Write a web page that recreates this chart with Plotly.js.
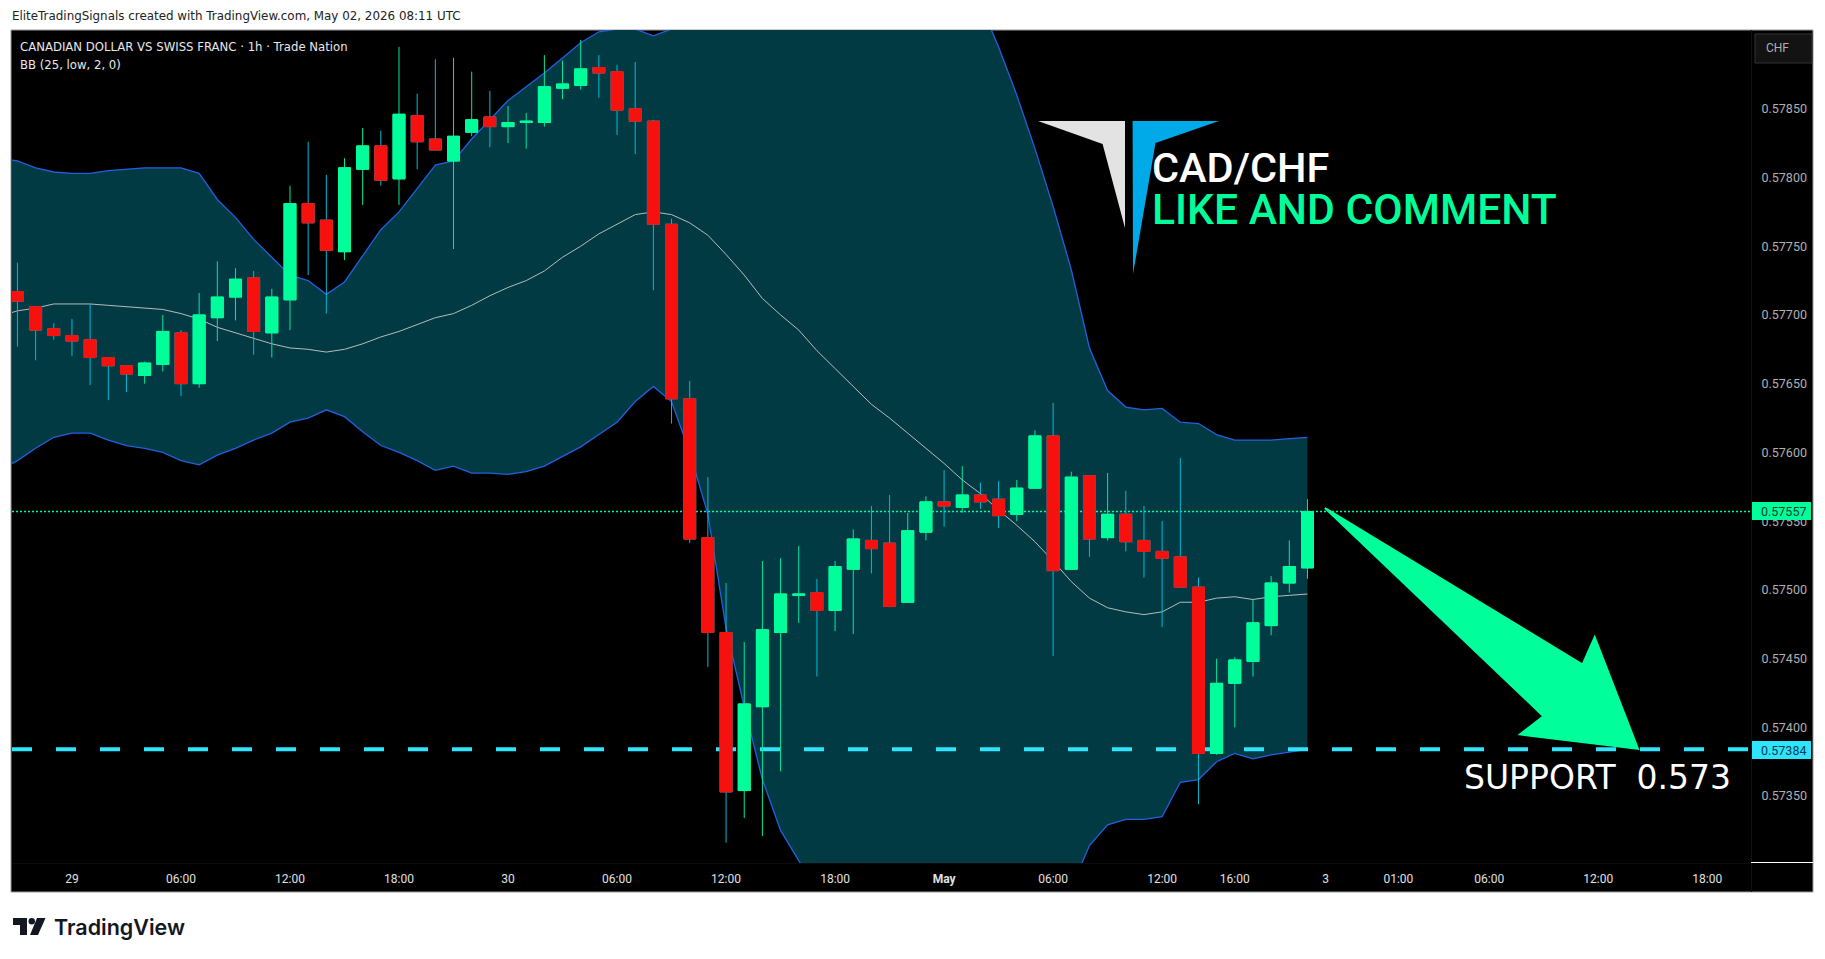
<!DOCTYPE html>
<html>
<head>
<meta charset="utf-8">
<script src="https://cdn.plot.ly/plotly-3.0.1.min.js"></script>
<style>
  html, body { margin: 0; padding: 0; background: #fff; }
</style>
</head>
<body>
<div id="chart" style="width:1825px;height:959px"></div>
<script>
// hourly candles
const open = [0.57717,0.57706,0.57690,0.57685,0.57682,0.57669,0.57663,0.57656,0.57664,0.57687,0.57650,0.57698,0.57713,0.57727,0.57687,0.57711,0.57781,0.57769,0.57746,0.57806,0.57823,0.57799,0.57845,0.57828,0.57812,0.57833,0.57844,0.57837,0.57840,0.57840,0.57865,0.57867,0.57880,0.57877,0.57850,0.57841,0.57766,0.57639,0.57538,0.57469,0.57354,0.57415,0.57469,0.57496,0.57498,0.57485,0.57515,0.57536,0.57534,0.57491,0.57542,0.57564,0.57560,0.57569,0.57566,0.57555,0.57574,0.57612,0.57515,0.57583,0.57538,0.57555,0.57536,0.57528,0.57524,0.57502,0.57381,0.57432,0.57448,0.57474,0.57505,0.57516];
const high = [0.57738,0.57706,0.57694,0.57697,0.57708,0.57669,0.57663,0.57666,0.57700,0.57689,0.57716,0.57739,0.57734,0.57732,0.57719,0.57794,0.57826,0.57802,0.57814,0.57836,0.57834,0.57895,0.57861,0.57886,0.57887,0.57877,0.57863,0.57852,0.57847,0.57889,0.57885,0.57900,0.57889,0.57882,0.57884,0.57842,0.57770,0.57652,0.57582,0.57505,0.57462,0.57521,0.57523,0.57532,0.57508,0.57521,0.57544,0.57561,0.57569,0.57556,0.57568,0.57587,0.57590,0.57578,0.57579,0.57580,0.57616,0.57636,0.57586,0.57583,0.57585,0.57572,0.57561,0.57550,0.57596,0.57509,0.57450,0.57451,0.57493,0.57510,0.57536,0.57566];
const low = [0.57677,0.57667,0.57682,0.57670,0.57649,0.57638,0.57644,0.57650,0.57659,0.57641,0.57647,0.57681,0.57696,0.57671,0.57669,0.57689,0.57729,0.57701,0.57740,0.57780,0.57794,0.57780,0.57806,0.57820,0.57748,0.57830,0.57822,0.57825,0.57821,0.57837,0.57857,0.57864,0.57858,0.57831,0.57817,0.57718,0.57621,0.57534,0.57444,0.57316,0.57334,0.57321,0.57368,0.57476,0.57437,0.57470,0.57468,0.57512,0.57488,0.57491,0.57536,0.57546,0.57556,0.57559,0.57545,0.57550,0.57574,0.57452,0.57515,0.57524,0.57536,0.57528,0.57509,0.57473,0.57502,0.57344,0.57380,0.57400,0.57437,0.57467,0.57498,0.57508];
const close = [0.57710,0.57689,0.57685,0.57681,0.57669,0.57663,0.57657,0.57665,0.57688,0.57650,0.57700,0.57713,0.57726,0.57688,0.57713,0.57781,0.57767,0.57747,0.57807,0.57823,0.57798,0.57846,0.57826,0.57820,0.57830,0.57842,0.57837,0.57840,0.57841,0.57866,0.57868,0.57879,0.57876,0.57849,0.57841,0.57766,0.57639,0.57537,0.57469,0.57353,0.57417,0.57471,0.57497,0.57497,0.57485,0.57517,0.57537,0.57530,0.57488,0.57543,0.57564,0.57561,0.57569,0.57564,0.57554,0.57574,0.57612,0.57514,0.57582,0.57537,0.57555,0.57535,0.57528,0.57523,0.57502,0.57381,0.57432,0.57449,0.57476,0.57505,0.57517,0.57557];

// BB (25, low, 2, 0), one value more on the left so the band runs off the pane
const bbUpper = [0.57814,0.57812,0.57807,0.57804,0.57803,0.57803,0.57805,0.57806,0.57807,0.57807,0.57807,0.57803,0.57784,0.57771,0.57755,0.57742,0.57729,0.57725,0.57715,0.57724,0.57743,0.57762,0.57775,0.57792,0.57809,0.57812,0.57828,0.57842,0.57856,0.57866,0.57876,0.57887,0.57898,0.57906,0.57908,0.57908,0.57903,0.57908,0.57924,0.57944,0.57973,0.57992,0.58002,0.58012,0.58016,0.58019,0.58019,0.58019,0.58016,0.58012,0.58002,0.57992,0.57975,0.57953,0.57926,0.57895,0.57860,0.57821,0.57779,0.57733,0.57676,0.57645,0.57633,0.57631,0.57632,0.57622,0.57621,0.57613,0.57609,0.57609,0.57609,0.57610,0.57611];
const bbMid = [0.57699,0.57703,0.57705,0.57708,0.57708,0.57708,0.57707,0.57706,0.57705,0.57704,0.57701,0.57697,0.57691,0.57687,0.57683,0.57679,0.57676,0.57675,0.57673,0.57675,0.57679,0.57684,0.57688,0.57693,0.57698,0.57701,0.57707,0.57714,0.57720,0.57725,0.57732,0.57742,0.57750,0.57759,0.57766,0.57773,0.57775,0.57773,0.57767,0.57758,0.57744,0.57729,0.57712,0.57700,0.57689,0.57674,0.57661,0.57648,0.57635,0.57625,0.57614,0.57603,0.57592,0.57580,0.57570,0.57558,0.57547,0.57535,0.57521,0.57506,0.57494,0.57487,0.57484,0.57482,0.57484,0.57491,0.57491,0.57494,0.57495,0.57493,0.57495,0.57496,0.57497];
const bbLower = [0.57587,0.57594,0.57603,0.57611,0.57614,0.57614,0.57609,0.57605,0.57603,0.57600,0.57594,0.57591,0.57598,0.57603,0.57609,0.57614,0.57622,0.57625,0.57631,0.57626,0.57615,0.57605,0.57600,0.57594,0.57587,0.57590,0.57585,0.57585,0.57584,0.57586,0.57590,0.57597,0.57604,0.57613,0.57622,0.57637,0.57648,0.57637,0.57600,0.57555,0.57472,0.57415,0.57362,0.57325,0.57303,0.57283,0.57267,0.57254,0.57244,0.57236,0.57231,0.57228,0.57227,0.57228,0.57231,0.57235,0.57238,0.57244,0.57262,0.57283,0.57314,0.57329,0.57333,0.57333,0.57335,0.57360,0.57362,0.57375,0.57381,0.57377,0.57380,0.57382,0.57384];

const lastPrice = 0.57557;
const supportPrice = 0.57384;

const priceTicks = [0.5735,0.574,0.5745,0.575,0.5755,0.576,0.5765,0.577,0.5775,0.578,0.5785];
const timeTickPos = [3,9,15,21,27,33,39,45,51,57,63,67,72,76,81,87,93];
const timeTickText = ['29','06:00','12:00','18:00','30','06:00','12:00','18:00','<b>May</b>','06:00','12:00','16:00','3','01:00','06:00','12:00','18:00'];

const W = 1825, H = 959;
const M = {l: 12, r: 74, t: 30, b: 96};
const xRange = [-0.3, 95.41];
const yRange = [0.573013, 0.579073];

// page pixels to paper fractions, for the decoration around the chart
const fx = x => (x - M.l) / (W - M.l - M.r);
const fy = y => 1 - (y - M.t) / (H - M.t - M.b);
const poly = pts => 'M' + pts.map(p => fx(p[0]) + ',' + fy(p[1])).join('L') + 'Z';

const GREEN = '#00ff9b', RED = '#f7110e', TEAL = '#023a44', BLUE = '#2260e0', CYAN = '#2fe4ff';

const candleIdx = open.map((_, i) => i);
const bandIdx = bbUpper.map((_, i) => i - 1);

const bandLine = {color: BLUE, width: 1.3};
const traces = [
  {x: bandIdx, y: bbUpper, type: 'scatter', mode: 'lines', line: bandLine, hoverinfo: 'skip'},
  {x: bandIdx, y: bbLower, type: 'scatter', mode: 'lines', line: bandLine, fill: 'tonexty', fillcolor: TEAL, hoverinfo: 'skip'},
  {x: bandIdx, y: bbMid, type: 'scatter', mode: 'lines', line: {color: '#b4bcbc', width: 1}, hoverinfo: 'skip'},
  {x: xRange, y: [lastPrice, lastPrice], type: 'scatter', mode: 'lines', line: {color: GREEN, width: 1.5, dash: '2px,2px'}, hoverinfo: 'skip'},
  {x: xRange, y: [supportPrice, supportPrice], type: 'scatter', mode: 'lines', line: {color: CYAN, width: 4, dash: '20px,24px'}, hoverinfo: 'skip'},
  // wicks first, then the bodies on top so red bodies can keep their cyan wicks
  {x: candleIdx, open, high, low, close, type: 'candlestick', xaxis: 'x2', yaxis: 'y2', hoverinfo: 'skip',
    increasing: {line: {color: '#00e8a0', width: 1}, fillcolor: GREEN},
    decreasing: {line: {color: '#00bcd4', width: 1}, fillcolor: RED}},
  {x: candleIdx, open, close,
    high: open.map((o, i) => Math.max(o, close[i])),
    low: open.map((o, i) => Math.min(o, close[i])),
    type: 'candlestick', xaxis: 'x2', yaxis: 'y2', hoverinfo: 'skip',
    increasing: {line: {color: GREEN, width: 1}, fillcolor: GREEN},
    decreasing: {line: {color: RED, width: 1}, fillcolor: RED}}
];

const label = (x, y, text, size, color, family, weight) => ({
  xref: 'paper', yref: 'paper', x: fx(x), y: fy(y), text,
  showarrow: false, xanchor: 'left', yanchor: 'middle', borderpad: 0,
  font: {size, color, family: family || 'Roboto, sans-serif', weight: weight || 400}
});

const rect = (x0, y0, x1, y1, fill, lineColor, layer) => ({
  type: 'rect', xref: 'paper', yref: 'paper', x0: fx(x0), x1: fx(x1), y0: fy(y0), y1: fy(y1),
  fillcolor: fill, line: {color: lineColor || fill, width: lineColor ? 1 : 0}, layer: layer || 'above'
});

const shapes = [
  rect(11, 30, 1813, 892, '#000000', '#9a9a9a', 'below'),
  rect(1751, 30, 1752, 892, '#111111', null, 'below'),
  rect(12, 863, 1751, 864, '#0c0c0c', null, 'below'),
  rect(1751, 862, 1813, 863, '#ffffff'),
  rect(1755, 34, 1812, 63, '#131313', '#333333'),
  rect(1752, 502, 1811, 520, GREEN),
  rect(1752, 741, 1811, 759, CYAN),
  // logo
  {type: 'path', xref: 'paper', yref: 'paper', layer: 'above', fillcolor: '#e3e3e3', line: {width: 0},
    path: poly([[1038,121],[1125,121],[1125,228],[1102.6,144]])},
  {type: 'path', xref: 'paper', yref: 'paper', layer: 'above', fillcolor: '#00a9e8', line: {width: 0},
    path: poly([[1132.6,121],[1219,121],[1155.5,143],[1133,274]])},
  // arrow down to the support
  {type: 'path', xref: 'paper', yref: 'paper', layer: 'above', fillcolor: GREEN, line: {color: GREEN, width: 2},
    path: poly([[1325,508],[1582.6,664.5],[1594.7,637],[1638,748.7],[1520,734.4],[1543.4,716.2]])},
  // TradingView mark in the footer
  {type: 'path', xref: 'paper', yref: 'paper', layer: 'above', fillcolor: '#131722', line: {width: 0},
    path: poly([[13,918],[27,918],[27,935],[20,935],[20,925],[13,925]])},
  {type: 'path', xref: 'paper', yref: 'paper', layer: 'above', fillcolor: '#131722', line: {width: 0},
    path: poly([[37,918],[45.5,918],[38,935],[30,935]])},
  {type: 'circle', xref: 'paper', yref: 'paper', layer: 'above', fillcolor: '#131722', line: {width: 0},
    x0: fx(28.5), x1: fx(35), y0: fy(918), y1: fy(924.5)}
];

const DEJAVU = '"DejaVu Sans", sans-serif';
const annotations = [
  label(11, 16.5, 'EliteTradingSignals created with TradingView.com, May 02, 2026 08:11 UTC', 11.9, '#222222', DEJAVU),
  label(19, 46.5, 'CANADIAN DOLLAR VS SWISS FRANC · 1h · Trade Nation', 11.7, '#e8e8e8', DEJAVU),
  label(19, 65.5, 'BB (25, low, 2, 0)', 11.7, '#e8e8e8', DEJAVU),
  label(1765, 48.5, 'CHF', 12, '#b0b0b0'),
  label(1760, 511, '0.57557', 12.5, '#0d3d33'),
  label(1760, 750, '0.57384', 12.5, '#0d3d4a'),
  label(1151, 167.5, 'CAD/CHF', 41.5, '#ffffff', 'Roboto, sans-serif', 500),
  label(1151, 208.5, 'LIKE AND COMMENT', 42.6, GREEN, 'Roboto, sans-serif', 500),
  label(1463, 777, 'SUPPORT\u00a0\u00a00.573', 33, '#ffffff', DEJAVU),
  label(53, 927, 'TradingView', 21.5, '#131722', 'Inter, sans-serif', 600)
];

const layout = {
  width: W, height: H, margin: M, autosize: false, showlegend: false,
  paper_bgcolor: '#ffffff', plot_bgcolor: 'rgba(0,0,0,0)',
  font: {family: 'Roboto, sans-serif'},
  xaxis: {
    range: xRange, tickmode: 'array', tickvals: timeTickPos, ticktext: timeTickText,
    showgrid: false, zeroline: false, showline: false, ticks: 'outside', ticklen: 5, tickcolor: 'rgba(0,0,0,0)',
    tickfont: {size: 12, color: '#e0e0e0'}, rangeslider: {visible: false}, fixedrange: true
  },
  yaxis: {
    range: yRange, side: 'right', tickmode: 'array', tickvals: priceTicks,
    ticktext: priceTicks.map(v => v.toFixed(5)),
    showgrid: false, zeroline: false, showline: false, ticks: 'outside', ticklen: 7, tickcolor: 'rgba(0,0,0,0)',
    tickfont: {size: 12.5, color: '#b0b0b0'}, fixedrange: true
  },
  xaxis2: {overlaying: 'x', anchor: 'y2', range: xRange, visible: false, rangeslider: {visible: false}, fixedrange: true},
  yaxis2: {overlaying: 'y', anchor: 'x2', range: yRange, visible: false, fixedrange: true},
  boxgap: 0.34, boxgroupgap: 0, boxmode: 'overlay',
  shapes, annotations
};

Plotly.newPlot('chart', traces, layout, {displayModeBar: false, staticPlot: true});
</script>
</body>
</html>
